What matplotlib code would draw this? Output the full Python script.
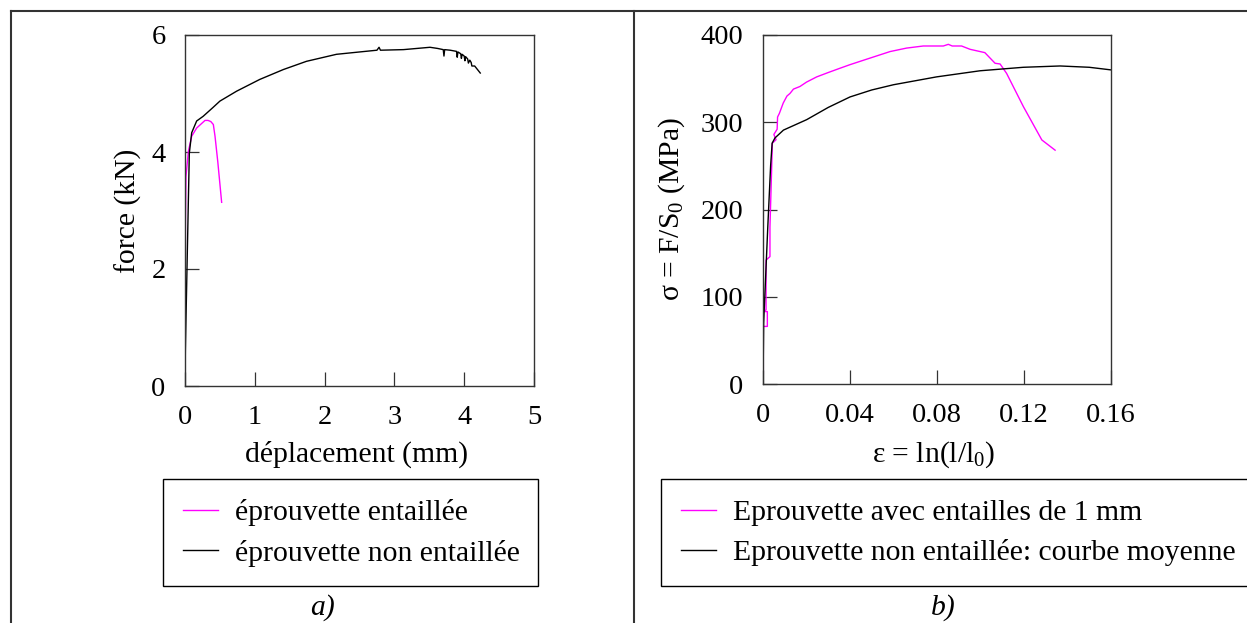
import matplotlib
matplotlib.use("Agg")
import matplotlib.pyplot as plt
from matplotlib.lines import Line2D

plt.rcParams['font.family'] = ['Liberation Serif', 'DejaVu Serif']
plt.rcParams['mathtext.fontset'] = 'custom'
plt.rcParams['mathtext.rm'] = 'Liberation Serif'
plt.rcParams['mathtext.it'] = 'Liberation Serif:italic'

# a) force / déplacement
depl_non_entaillee = [0, 0.005, 0.033, 0.062, 0.096, 0.167, 0.26, 0.40, 0.50, 0.74, 1.07,
                      1.41, 1.74, 2.17, 2.50, 2.75, 2.78, 2.80, 3.13, 3.51, 3.62, 3.70,
                      3.71, 3.72, 3.80, 3.89, 3.90, 3.91, 3.95, 3.96, 3.97, 4.00, 4.01,
                      4.02, 4.05, 4.06, 4.08, 4.10, 4.11, 4.15, 4.23]
force_non_entaillee = [0, 0.6, 2.27, 3.98, 4.33, 4.53, 4.61, 4.76, 4.87, 5.04, 5.24,
                       5.41, 5.55, 5.67, 5.71, 5.74, 5.79, 5.74, 5.75, 5.79, 5.77, 5.75,
                       5.64, 5.75, 5.74, 5.72, 5.62, 5.71, 5.68, 5.60, 5.67, 5.64, 5.56,
                       5.63, 5.59, 5.52, 5.57, 5.53, 5.47, 5.47, 5.35]

depl_entaillee = [0, 0.003, 0.006, 0.014, 0.048, 0.096, 0.167, 0.287, 0.33, 0.37,
                  0.406, 0.43, 0.47, 0.525]
force_entaillee = [0, 1.5, 2.8, 3.58, 4.01, 4.27, 4.41, 4.54, 4.54, 4.52,
                   4.47, 4.27, 3.83, 3.14]

# b) contrainte / déformation
eps_moyenne = [0, 0.0003, 0.0022, 0.0035, 0.0042, 0.0055, 0.0094, 0.0201, 0.030, 0.040,
               0.050, 0.060, 0.0798, 0.0998, 0.1197, 0.1366, 0.150, 0.160]
sig_moyenne = [0, 70, 180, 250, 276, 282, 291, 303, 317, 329,
               337, 343, 352, 359, 363, 364.5, 363, 360]

eps_entaille = [0, 0.00015, 0.00015, 0.0020, 0.0020, 0.00015, 0.0014, 0.0014, 0.0032,
                0.0032, 0.0040, 0.0043, 0.0060, 0.0050, 0.0065, 0.0067, 0.0075, 0.0093,
                0.011, 0.0124, 0.0140, 0.0170, 0.020, 0.0247, 0.030, 0.0355, 0.040,
                0.0461, 0.0584, 0.066, 0.0737, 0.0829, 0.0852, 0.0870, 0.0913, 0.0952,
                0.102, 0.1067, 0.109, 0.112, 0.1197, 0.1282, 0.1343]
sig_entaille = [0, 12, 66, 66, 83, 83, 85, 142, 146, 180, 249, 276, 280, 286, 292, 306,
                310, 322, 330, 333, 338, 341, 346, 352, 357, 362, 366, 371, 381, 385,
                387.4, 387.4, 389.3, 387.4, 387.4, 383.6, 379.8, 367.6, 366.8, 356,
                318, 279.7, 268]

W, H = 1247, 623
fig = plt.figure(figsize=(W / 100, H / 100), dpi=100)


def fx(x):
    return x / W


def fy(y):
    return 1 - y / H


# outer frame and divider
for xs, ys in [([11, W], [11, 11]), ([11, 11], [11, H]), ([634, 634], [11, H])]:
    fig.add_artist(Line2D([fx(v) for v in xs], [fy(v) for v in ys],
                          color='#333333', lw=1.5))

ax1 = fig.add_axes([fx(185), fy(386), fx(534 - 185), (386 - 35) / H])
ax2 = fig.add_axes([fx(763), fy(384), fx(1111 - 763), (384 - 35) / H])

ax1.plot(depl_entaillee, force_entaillee, color='#ff00ff', lw=1,
         label='éprouvette entaillée')
ax1.plot(depl_non_entaillee, force_non_entaillee, color='black', lw=1,
         label='éprouvette non entaillée')
ax1.set_xlim(0, 5)
ax1.set_ylim(0, 6)
ax1.set_xticks([0, 1, 2, 3, 4, 5])
ax1.set_yticks([0, 2, 4, 6])
ax1.set_xlabel('déplacement (mm)', fontsize=21.3)
ax1.set_ylabel('force (kN)', fontsize=21.3)
ax1.yaxis.set_label_coords(-0.123, 0.5)
ax1.xaxis.set_label_coords(0.49, -0.155)

ax2.plot(eps_entaille, sig_entaille, color='#ff00ff', lw=1,
         label='Eprouvette avec entailles de 1 mm')
ax2.plot(eps_moyenne, sig_moyenne, color='black', lw=1,
         label='Eprouvette non entaillée: courbe moyenne')
ax2.set_xlim(0, 0.16)
ax2.set_ylim(0, 400)
ax2.set_xticks([0, 0.04, 0.08, 0.12, 0.16])
ax2.set_xticklabels(['0', '0.04', '0.08', '0.12', '0.16'])
ax2.set_yticks([0, 100, 200, 300, 400])
ax2.set_xlabel('ε = ln(l/l$_0$)', fontsize=21.3)
ax2.set_ylabel('σ = F/S$_0$ (MPa)', fontsize=21.3)
ax2.yaxis.set_label_coords(-0.218, 0.5)
ax2.xaxis.set_label_coords(0.49, -0.16)

for ax in (ax1, ax2):
    for s in ax.spines.values():
        s.set_color('#333333')
        s.set_linewidth(1)
    ax.tick_params(direction='in', length=10, width=0.9, color='#333333',
                   top=False, right=False, labelsize=20.5, pad=14)

leg_kw = dict(loc='upper left', mode='expand', fontsize=21.3, handlelength=1.2,
              handletextpad=0.58, borderpad=0.67, labelspacing=0.45,
              borderaxespad=0, fancybox=False, framealpha=1,
              edgecolor='black', bbox_transform=fig.transFigure)
l1 = ax1.legend(bbox_to_anchor=(fx(163), fy(480), fx(538 - 163), 0.001), **leg_kw)
l2 = ax2.legend(bbox_to_anchor=(fx(661), fy(480), fx(1270 - 661), 0.001), **leg_kw)
for leg in (l1, l2):
    leg.get_frame().set_linewidth(1)
    leg.set_clip_on(False)

fig.text(fx(322), fy(608), 'a)', style='italic', fontsize=21.3, ha='center', va='center')
fig.text(fx(943), fy(608), 'b)', style='italic', fontsize=21.3, ha='center', va='center')

fig.savefig('out.png', dpi=100)
